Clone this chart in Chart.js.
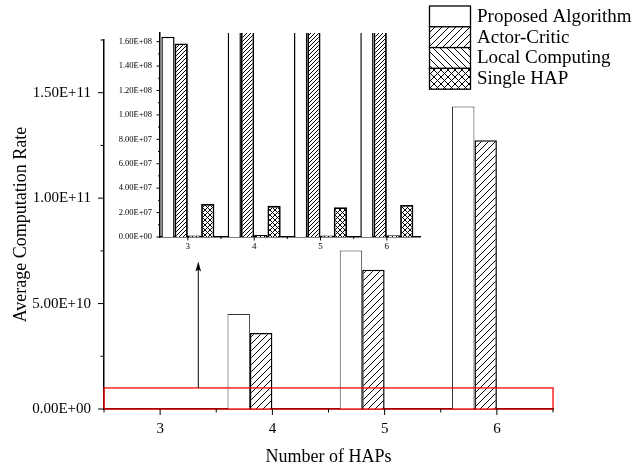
<!DOCTYPE html>
<html><head><meta charset="utf-8">
<script src="https://cdn.jsdelivr.net/npm/chart.js@4"></script>
<style>
html,body{margin:0;padding:0;background:#fff;}
#wrap{position:relative;width:632px;height:466px;background:#fff;}
#main{position:absolute;left:0;top:0;}
#inset{position:absolute;left:100px;top:20px;}
</style></head><body>
<div id="wrap">
<canvas id="main" width="632" height="466"></canvas>
<canvas id="inset" width="330" height="240"></canvas>
</div>
<script>
// ---- data ----
const categories = [3, 4, 5, 6];
const seriesNames = ['Proposed Algorithm', 'Actor-Critic', 'Local Computing', 'Single HAP'];
const proposed = [1.64e8, 4.51e10, 7.52e10, 1.435e11];
const actorCritic = [1.585e8, 3.60e10, 6.60e10, 1.274e11];
const localComputing = [1.2e6, 1.6e6, 1.3e6, 1.5e6];
const singleHAP = [2.71e7, 2.55e7, 2.44e7, 2.63e7];
const mainYTicks = [0, 5e10, 1e11, 1.5e11];
const mainYMinor = [2.5e10, 7.5e10, 1.25e11, 1.75e11];
const insetYTicks = [0, 2e7, 4e7, 6e7, 8e7, 1e8, 1.2e8, 1.4e8, 1.6e8];
const insetYMinor = [1e7, 3e7, 5e7, 7e7, 9e7, 1.1e8, 1.3e8, 1.5e8];
const xMinor = [2.5, 3.5, 4.5, 5.5, 6.5];
const zoomBox = {x0: 2.5, x1: 6.5, y0: 0, y1: 1e10};
const arrowSpec = {x: 3.34, y0: 1e10, y1: 7e10};

const FONT = "'Liberation Serif', 'Times New Roman', serif";
Chart.defaults.font.family = FONT;
Chart.defaults.color = '#000';

function fmtE(v) {
  if (v === 0) return '0.00E+00';
  const e = Math.floor(Math.log10(Math.abs(v)) + 1e-9);
  const m = v / Math.pow(10, e);
  return m.toFixed(2) + 'E' + (e < 0 ? '-' : '+') + String(Math.abs(e)).padStart(2, '0');
}

function makePattern(ctx, kind, s, lw) {
  const c = document.createElement('canvas');
  c.width = s; c.height = s;
  const g = c.getContext('2d');
  g.fillStyle = '#fff'; g.fillRect(0, 0, s, s);
  g.strokeStyle = '#000'; g.lineWidth = lw; g.beginPath();
  const fwd = () => { g.moveTo(-1, s + 1); g.lineTo(s + 1, -1); g.moveTo(-1, 1); g.lineTo(1, -1); g.moveTo(s - 1, s + 1); g.lineTo(s + 1, s - 1); };
  const back = () => { g.moveTo(-1, -1); g.lineTo(s + 1, s + 1); g.moveTo(s - 1, -1); g.lineTo(s + 1, 1); g.moveTo(-1, s - 1); g.lineTo(1, s + 1); };
  if (kind === '/') fwd(); else if (kind === '\\') back(); else { fwd(); back(); }
  g.stroke();
  return ctx.createPattern(c, 'repeat');
}

const mainCtx = document.getElementById('main').getContext('2d');
const insetCtx = document.getElementById('inset').getContext('2d');
const mainPat = [null, makePattern(mainCtx, '/', 7, 1), makePattern(mainCtx, '\\', 7, 1), makePattern(mainCtx, 'x', 7, 1)];
const insetPat = [null, makePattern(insetCtx, '/', 4, 1), makePattern(insetCtx, '\\', 4, 1), makePattern(insetCtx, 'x', 5, 1)];
const seriesData = [proposed, actorCritic, localComputing, singleHAP];

function datasets(pats, bwP, bwH, pColor) {
  return seriesData.map((d, i) => ({
    label: seriesNames[i],
    data: d,
    backgroundColor: i === 0 ? '#fff' : pats[i],
    borderColor: i === 0 ? pColor : '#000',
    borderWidth: i === 0 ? bwP : bwH,
    categoryPercentage: 0.8,
    barPercentage: 1.0,
    clip: 0
  }));
}

function drawTicks(chart, xMaj, xMin, yMaj, yMin, lMaj, lMin, lw) {
  const {ctx} = chart;
  const xs = chart.scales.x, ys = chart.scales.y;
  const a = chart.chartArea;
  ctx.save();
  ctx.strokeStyle = '#000'; ctx.lineWidth = lw;
  ctx.beginPath();
  yMaj.forEach(v => { const y = ys.getPixelForValue(v); ctx.moveTo(a.left, y); ctx.lineTo(a.left - lMaj, y); });
  yMin.forEach(v => { const y = ys.getPixelForValue(v); ctx.moveTo(a.left, y); ctx.lineTo(a.left - lMin, y); });
  xMaj.forEach(v => { const x = xs.getPixelForValue(v); ctx.moveTo(x, a.bottom); ctx.lineTo(x, a.bottom + lMaj); });
  xMin.forEach(v => { const x = xs.getPixelForValue(v); ctx.moveTo(x, a.bottom); ctx.lineTo(x, a.bottom + lMin); });
  ctx.stroke();
  ctx.restore();
}

const mainDeco = {
  id: 'mainDeco',
  afterDatasetsDraw(chart) {
    const {ctx} = chart;
    const xs = chart.scales.x, ys = chart.scales.y;
    // zoom rectangle
    ctx.save();
    ctx.strokeStyle = 'rgba(255,0,0,0.85)';
    ctx.lineWidth = 1.5;
    const rx0 = xs.getPixelForValue(zoomBox.x0), rx1 = xs.getPixelForValue(zoomBox.x1);
    const ry0 = ys.getPixelForValue(zoomBox.y0), ry1 = ys.getPixelForValue(zoomBox.y1);
    ctx.strokeRect(rx0, ry1, rx1 - rx0, ry0 - ry1);
    // arrow
    const ax = xs.getPixelForValue(arrowSpec.x);
    const ay0 = ys.getPixelForValue(arrowSpec.y0), ay1 = ys.getPixelForValue(arrowSpec.y1);
    ctx.strokeStyle = '#000'; ctx.fillStyle = '#000'; ctx.lineWidth = 1;
    ctx.beginPath(); ctx.moveTo(ax, ay0); ctx.lineTo(ax, ay1 + 6); ctx.stroke();
    ctx.beginPath(); ctx.moveTo(ax, ay1); ctx.lineTo(ax - 2.8, ay1 + 10); ctx.lineTo(ax, ay1 + 8); ctx.lineTo(ax + 2.8, ay1 + 10); ctx.closePath(); ctx.fill();
    ctx.restore();
  },
  afterDraw(chart) {
    drawTicks(chart, categories, xMinor, mainYTicks, mainYMinor, 6, 3.5, 1);
    const {ctx} = chart;
    ctx.save();
    const bx = 429.5, by = 6, bw = 41, bh = 20.8;
    chart.data.datasets.forEach((ds, i) => {
      const y = by + i * bh;
      ctx.fillStyle = ds.backgroundColor;
      ctx.fillRect(bx, y, bw, bh);
      ctx.strokeStyle = '#000'; ctx.lineWidth = 1.3;
      ctx.strokeRect(bx, y, bw, bh);
      ctx.fillStyle = '#000';
      ctx.font = "19px " + FONT;
      ctx.textBaseline = 'middle';
      ctx.textAlign = 'left';
      ctx.fillText(ds.label, 477, y + bh / 2 + 0.5);
    });
    ctx.restore();
  }
};

new Chart(mainCtx, {
  type: 'bar',
  data: {labels: categories, datasets: datasets(mainPat, 1, 1.5, '#333')},
  options: {
    responsive: false, animation: false, events: [],
    layout: {padding: {left: 0, top: 40, right: 79, bottom: 0}},
    plugins: {legend: {display: false}, tooltip: {enabled: false}},
    scales: {
      x: {
        type: 'linear', min: 2.5, max: 6.5, offset: false,
        grid: {display: false, drawTicks: false, offset: false},
        border: {display: true, color: '#000', width: 1.5},
        afterBuildTicks: s => { s.ticks = categories.map(v => ({value: v})); },
        afterFit: s => { s.height = 57; },
        ticks: {padding: 11, font: {size: 15}, color: '#000', maxRotation: 0, callback: v => String(v)},
        title: {display: true, text: 'Number of HAPs', font: {size: 18}, color: '#000', padding: {top: 0, bottom: -2}}
      },
      y: {
        min: 0, max: 1.75e11,
        grid: {display: false, drawTicks: false},
        border: {display: true, color: '#000', width: 1.5},
        afterBuildTicks: s => { s.ticks = mainYTicks.map(v => ({value: v})); },
        afterFit: s => { s.width = 104; },
        ticks: {padding: 13, font: {size: 15}, color: '#000', callback: v => fmtE(v)},
        title: {display: true, text: 'Average Computation Rate', font: {size: 18}, color: '#000', padding: {top: 10, bottom: 0}}
      }
    }
  },
  plugins: [mainDeco]
});

const insetDeco = {
  id: 'insetDeco',
  afterDraw(chart) {
    drawTicks(chart, categories, [3.5, 4.5, 5.5], insetYTicks, insetYMinor, 3.5, 2, 1);
  }
};

new Chart(insetCtx, {
  type: 'bar',
  data: {labels: categories, datasets: datasets(insetPat, 1.5, 1.8, '#000')},
  options: {
    responsive: false, animation: false, events: [],
    layout: {padding: {left: 0, top: 12, right: 10, bottom: 0}},
    plugins: {legend: {display: false}, tooltip: {enabled: false}},
    scales: {
      x: {
        type: 'linear', min: 2.58, max: 6.5, offset: false,
        grid: {display: false, drawTicks: false, offset: false},
        border: {display: true, color: '#000', width: 1.5},
        afterBuildTicks: s => { s.ticks = categories.map(v => ({value: v})); },
        afterFit: s => { s.height = 23; },
        ticks: {padding: 4, font: {size: 9}, color: '#000', maxRotation: 0, callback: v => String(v)}
      },
      y: {
        min: 0, max: 1.67e8,
        grid: {display: false, drawTicks: false},
        border: {display: true, color: '#000', width: 1.5},
        afterBuildTicks: s => { s.ticks = insetYTicks.map(v => ({value: v})); },
        afterFit: s => { s.width = 60; },
        ticks: {padding: 8, font: {size: 8.5}, color: '#000', callback: v => fmtE(v)}
      }
    }
  },
  plugins: [insetDeco]
});
</script>
</body></html>
